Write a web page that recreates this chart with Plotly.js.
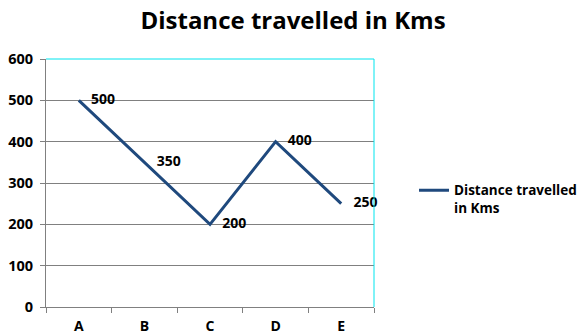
<!DOCTYPE html>
<html><head><meta charset="utf-8">
<script src="https://cdn.plot.ly/plotly-3.0.1.min.js"></script>
<style>body{margin:0}</style></head>
<body><div id="chart" style="width:586px;height:335px"></div>
<script>
const categories = ['A','B','C','D','E'];
const distances = [500, 350, 200, 400, 250];
const seriesName = 'Distance travelled<br>in Kms';
const titleText = 'Distance travelled in Kms';

const fontFam = 'Open Sans, DejaVu Sans, sans-serif';
const trace = {
  x: categories, y: distances, type: 'scatter', mode: 'lines+markers+text',
  name: seriesName,
  text: distances.map(String), textposition: 'middle right',
  textfont: {family: fontFam, size: 14, color: '#000', weight: 'bold'},
  line: {color: '#1F497D', width: 3},
  marker: {size: 18, color: 'rgba(0,0,0,0)'},
  cliponaxis: false
};
const layout = {
  width: 586, height: 335,
  margin: {l: 46, r: 212, t: 59, b: 28, autoexpand: false},
  paper_bgcolor: '#fff', plot_bgcolor: '#fff',
  title: {text: titleText, x: 0.5, xref: 'container', xanchor: 'center', y: 0.94, yref: 'container', yanchor: 'middle',
    font: {family: fontFam, size: 24, color: '#000', weight: 'bold'}},
  showlegend: true,
  legend: {x: 1.122, xanchor: 'left', y: 0.434, yanchor: 'middle', valign: 'top', bgcolor: 'rgba(0,0,0,0)',
    font: {family: fontFam, size: 13.5, color: '#000', weight: 'bold'}, itemwidth: 30},
  xaxis: {type: 'category', range: [-0.5, 4.5], tickson: 'boundaries', ticks: 'outside', ticklen: 5,
    tickcolor: '#808080', showline: true, linecolor: '#808080', showgrid: false, ticklabelstandoff: 6,
    tickfont: {family: fontFam, size: 14, color: '#000', weight: 'bold'}},
  yaxis: {range: [0, 600], dtick: 100, ticks: 'outside', ticklen: 5, tickcolor: '#808080',
    showline: true, linecolor: '#808080', gridcolor: '#808080', zeroline: false,
    tickfont: {family: fontFam, size: 14.5, color: '#000', weight: 'bold'}, ticklabelstandoff: 4},
  shapes: [
    {type: 'line', xref: 'paper', yref: 'paper', x0: 0, x1: 1, y0: 1, y1: 1, line: {color: '#00E5EE', width: 1}},
    {type: 'line', xref: 'paper', yref: 'paper', x0: 1, x1: 1, y0: 0, y1: 1, line: {color: '#00E5EE', width: 1}}
  ]
};
Plotly.newPlot('chart', [trace], layout, {displayModeBar: false});
</script></body></html>
